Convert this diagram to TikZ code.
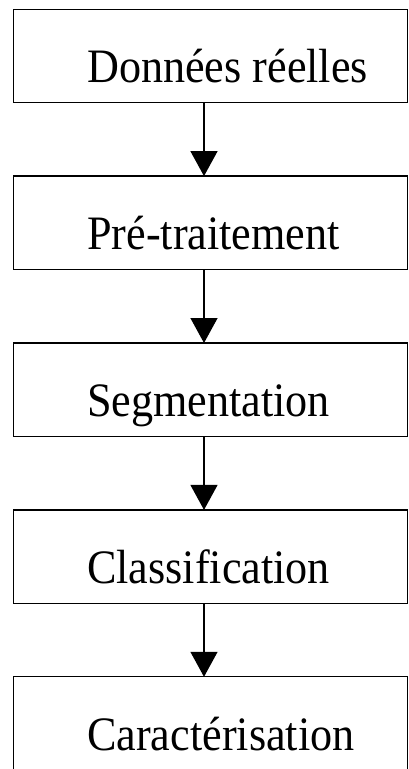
\documentclass[tikz,border=0pt]{standalone}
\usepackage{fontspec}
\setmainfont{Liberation Serif}[FakeStretch=0.92]
\usetikzlibrary{arrows.meta}
\begin{document}
\begin{tikzpicture}[x=1pt,y=1pt,
  stage/.style={draw=black, line width=1.3pt, minimum width=393.7pt, minimum height=93.5pt, inner sep=0pt, outer sep=0pt, anchor=north west},
  lbl/.style={anchor=base west, inner sep=0pt, font=\fontsize{48}{52}\selectfont},
  flow/.style={line width=1.3pt, -{Triangle[width=27pt,length=25pt]}}]
\useasboundingbox (0,0) rectangle (408,-769);
\coordinate (ax) at (204,0);
\node[stage] (b1) at (13.8,-9.2) {};
\node[stage] (b2) at (13.8,-176.1) {};
\node[stage] (b3) at (13.8,-343.0) {};
\node[stage] (b4) at (13.8,-509.9) {};
\node[stage] (b5) at (13.8,-676.8) {};
\node[lbl] (t1) at (87,-82.3) {Données réelles};
\node[lbl] (t2) at (87,-249.3) {Pré-traitement};
\node[lbl] (t3) at (87,-416.2) {Segmentation};
\node[lbl] (t4) at (87,-583.8) {Classification};
\node[lbl] (t5) at (87,-750.0) {Caractérisation};
\draw[flow] (b1.south -| ax) -- (b2.north -| ax);
\draw[flow] (b2.south -| ax) -- (b3.north -| ax);
\draw[flow] (b3.south -| ax) -- (b4.north -| ax);
\draw[flow] (b4.south -| ax) -- (b5.north -| ax);
\end{tikzpicture}
\end{document}
